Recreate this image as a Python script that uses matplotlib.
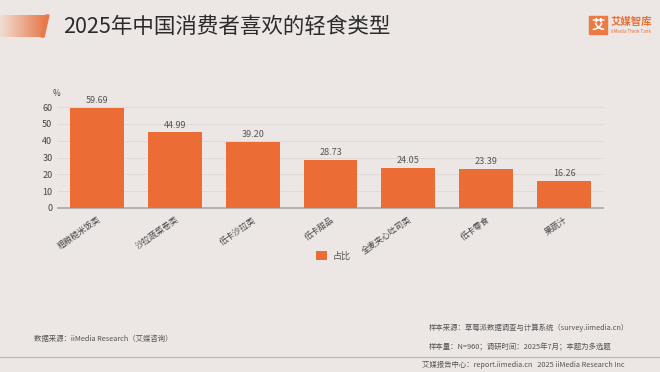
import numpy as np
import matplotlib
matplotlib.use("Agg")
import matplotlib.pyplot as plt
from matplotlib.colors import LinearSegmentedColormap
from matplotlib.patches import Polygon, Rectangle

plt.rcParams['font.family'] = ['Noto Sans CJK SC', 'DejaVu Sans']

categories = ["粗粮糙米饭类", "沙拉蔬菜卷类", "低卡沙拉类", "低卡甜品",
              "全麦夹心吐司类", "低卡零食", "果蔬汁"]
values = [59.69, 44.99, 39.20, 28.73, 24.05, 23.39, 16.26]
yticks = [0, 10, 20, 30, 40, 50, 60]

bg = "#ece6e4"
orange = "#eb6d35"
grey = "#555555"

fig = plt.figure(figsize=(6.6, 3.72), dpi=100, facecolor=bg)

# pixel-coordinate overlay for decorations
deco = fig.add_axes([0, 0, 1, 1], facecolor="none")
deco.axis("off")

# title block: gradient + slash
grad = np.linspace(0, 1, 100).reshape(1, -1)
cmap = LinearSegmentedColormap.from_list("g", ["#f0ddd3", "#e8794a"])
img = deco.imshow(grad, extent=(0, 46, 37, 15), cmap=cmap, aspect="auto", zorder=1)
img.set_clip_path(Polygon([(0, 15), (46, 15), (41, 37), (0, 37)], closed=True,
                          transform=deco.transData))
deco.add_patch(Polygon([(46, 15), (49, 15), (44, 37), (41, 37)], closed=True,
                       color="#e8794a", zorder=2))
deco.set_xlim(0, 660)
deco.set_ylim(372, 0)

fig.text(63 / 660, 1 - 27 / 372, "2025年中国消费者喜欢的轻食类型", fontsize=15.5,
         color="#2b2b2b", va="center", ha="left", fontweight="light")

# logo
deco.add_patch(Rectangle((589, 16), 18, 18, color="#ec7a45", zorder=2))
deco.text(598, 25, "艾", color="white", fontsize=9.5, ha="center", va="center",
          fontweight="bold", zorder=3)
deco.text(611, 22, "艾媒智库", color="#e8713a", fontsize=7.5, ha="left", va="center",
          fontweight="bold")
deco.text(611, 31.5, "iiMedia Think Tank", color="#e8713a", fontsize=3.3, ha="left",
          va="center")

# main chart
ax = fig.add_axes([58 / 660, 1 - 208 / 372, 545 / 660, (208 - 98.6) / 372], facecolor="none")
x = np.arange(len(categories))
bars = ax.bar(x, values, width=0.69, color=orange, zorder=3, label="占比")
for xi, v in zip(x, values):
    ax.text(xi, v + 1.5, f"{v:.2f}", ha="center", va="bottom", fontsize=6.5, color=grey)
ax.set_xlim(-0.5, len(categories) - 0.5)
ax.set_ylim(0, 65)
ax.set_yticks(yticks)
ax.set_yticklabels([str(t) for t in yticks], fontsize=6.5, color="#444444")
ax.set_xticks(x)
ax.set_xticklabels(categories, rotation=35, ha="right", rotation_mode="anchor",
                   fontsize=6, color="#444444")
ax.tick_params(axis="both", length=0, pad=4)
ax.tick_params(axis="x", pad=5)
for t in yticks[1:]:
    ax.axhline(t, color="#dcd6d4", linewidth=0.6, zorder=1)
for s in ["top", "right", "left"]:
    ax.spines[s].set_visible(False)
ax.spines["bottom"].set_color("#a8a8a8")
ax.spines["bottom"].set_linewidth(1.2)
ax.text(-0.52, 65.5, "%", fontsize=6, color="#444444", ha="center", va="bottom")

leg = fig.legend(handles=[bars], labels=["占比"], loc="center",
                 bbox_to_anchor=(333 / 660, 1 - 256 / 372), frameon=False, fontsize=6.5,
                 handlelength=1.2, handleheight=1.0, handletextpad=0.6)
for t in leg.get_texts():
    t.set_color(grey)

# footer
fig.text(34 / 660, 1 - 339 / 372, "数据来源：iiMedia Research（艾媒咨询）", fontsize=5.3,
         color=grey, va="center")
fig.text(429 / 660, 1 - 328 / 372, "样本来源：草莓派数据调查与计算系统（survey.iimedia.cn）",
         fontsize=5.3, color=grey, va="center", ha="left")
fig.text(429 / 660, 1 - 347 / 372, "样本量：N=960；调研时间：2025年7月；本题为多选题",
         fontsize=5.3, color=grey, va="center", ha="left")
deco.plot([0, 660], [357, 357], color="#b8b4b2", linewidth=0.8)
fig.text(625 / 660, 1 - 365 / 372, "艾媒报告中心：report.iimedia.cn   2025 iiMedia Research Inc",
         fontsize=5.3, color=grey, va="center", ha="right")

fig.savefig("out.png", dpi=100, facecolor=bg)
